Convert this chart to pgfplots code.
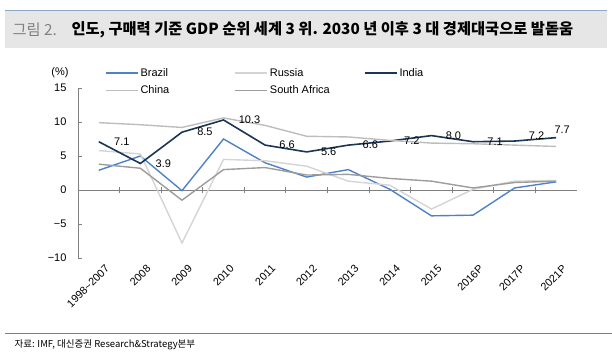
\documentclass[border=0pt]{standalone}
\usepackage{pgfplots}
\pgfplotsset{compat=1.18}
\usepackage{pgfplotstable}
\usepackage{fontspec}
\setmainfont{Liberation Sans}
\newfontfamily\kr{Noto Sans CJK KR}
\definecolor{brazil}{HTML}{4F81C6}
\definecolor{russia}{HTML}{D4D4D4}
\definecolor{india}{HTML}{1B3556}
\definecolor{china}{HTML}{BDBDBD}
\definecolor{safrica}{HTML}{9C9C9C}
\definecolor{axisgray}{HTML}{808080}
\definecolor{band}{HTML}{E6E6E6}
\definecolor{bandline}{HTML}{8FA7C6}

\pgfplotstableread{
x y
0 2.9
1 5.0
2 -0.1
3 7.5
4 4.0
5 1.9
6 3.0
7 0.1
8 -3.8
9 -3.7
10 0.3
11 1.2
}\brazil
\pgfplotstableread{
x y
0 5.8
1 5.3
2 -7.8
3 4.5
4 4.3
5 3.5
6 1.3
7 0.7
8 -2.8
9 0.1
10 1.3
11 1.4
}\russia
\pgfplotstableread{
x y lab dx dy
0 7.1 7.1 23 0
1 3.9 3.9 23 0
2 8.5 8.5 23 0
3 10.3 10.3 26 0
4 6.6 6.6 22 0
5 5.6 5.6 22 0
6 6.6 6.6 22 0
7 7.2 7.2 22 0
8 8.0 8.0 22 0
9 7.1 7.1 22 0
10 7.2 7.2 22 5
11 7.7 7.7 6 8
}\india
\pgfplotstableread{
x y
0 9.9
1 9.6
2 9.2
3 10.6
4 9.5
5 7.9
6 7.8
7 7.3
8 6.9
9 6.8
10 6.6
11 6.4
}\china
\pgfplotstableread{
x y
0 3.8
1 3.2
2 -1.5
3 3.0
4 3.3
5 2.2
6 2.3
7 1.7
8 1.3
9 0.3
10 1.1
11 1.3
}\safrica

\begin{document}
\begin{tikzpicture}
\path[use as bounding box] (0bp,0bp) rectangle (612bp,356bp);
% title band
\fill[band] (5bp,308bp) rectangle (607bp,346bp);
\draw[bandline, line width=0.8bp] (5bp,346bp) -- (607bp,346bp);
\node[anchor=west, text=gray, font=\kr\fontsize{15.3bp}{17bp}\selectfont] at (9bp,326.5bp) {그림 2.};
\node[anchor=west, font=\kr\bfseries\fontsize{15.3bp}{17bp}\selectfont] at (68bp,326.5bp) {인도, 구매력 기준 GDP 순위 세계 3 위. 2030 년 이후 3 대 경제대국으로 발돋움};
% source
\draw[axisgray, line width=0.8bp] (5bp,23bp) -- (612bp,23bp);
\node[anchor=west, font=\kr\fontsize{9.5bp}{11bp}\selectfont] at (11bp,11bp) {자료: IMF, 대신증권 Research\&Strategy본부};
\node[font=\fontsize{11bp}{13bp}\selectfont] at (60bp,283bp) {(\%)};

% zero line axis
\begin{axis}[
  at={(78bp,98bp)}, anchor=south west,
  scale only axis, width=499bp, height=170bp,
  xmin=-0.5, xmax=11.5, ymin=-10, ymax=15,
  axis x line*=middle,
  y axis line style={draw=none},
  ytick=\empty,
  xtick={-0.5,0.5,...,11.5},
  xticklabels={},
  tick align=center,
  major tick length=6bp,
  x axis line style={axisgray, line width=0.9bp},
  xtick style={axisgray, line width=0.9bp},
]
\end{axis}

\begin{axis}[
  at={(78bp,98bp)}, anchor=south west,
  scale only axis, width=499bp, height=170bp,
  xmin=-0.5, xmax=11.5, ymin=-10, ymax=15,
  axis y line*=left,
  axis x line*=bottom,
  x axis line style={draw=none},
  y axis line style={axisgray, line width=0.9bp},
  ytick={-10,-5,0,5,10,15},
  yticklabels={−10,−5,0,5,10,15},
  tick align=inside,
  ytick style={axisgray, line width=0.9bp},
  major tick length=4bp,
  xtick={0,...,11},
  xtick style={draw=none},
  xticklabels={1998\textasciitilde2007,2008,2009,2010,2011,2012,2013,2014,2015,2016P,2017P,2021P},
  xticklabel style={rotate=45, anchor=north east, font=\fontsize{10.8bp}{12bp}\selectfont, xshift=3bp, yshift=-5bp},
  yticklabel style={font=\fontsize{11bp}{13bp}\selectfont, xshift=-8bp},
  /pgf/number format/assume math mode=true,
  legend columns=3,
  legend cell align=left,
  legend style={draw=none, fill=none, at={(0.054,1.13)}, anchor=north west,
    font=\fontsize{11bp}{13bp}\selectfont, column sep=0bp, row sep=4bp, inner sep=0pt},
  legend image code/.code={\draw[#1] (0bp,0bp) -- (32bp,0bp);},
  clip=false,
]
\addplot[brazil, line width=1.4bp] table[x=x,y=y] {\brazil};
\addlegendentry{\makebox[92bp][l]{Brazil}}
\addplot[russia, line width=1.4bp] table[x=x,y=y] {\russia};
\addlegendentry{\makebox[92bp][l]{Russia}}
\addplot[india, line width=1.6bp,
  nodes near coords, point meta=explicit symbolic,
  visualization depends on={\thisrow{dx} \as \dx},
  visualization depends on={\thisrow{dy} \as \dy},
  every node near coord/.append style={anchor=center, text=black, font=\fontsize{11bp}{13bp}\selectfont, xshift=\dx bp, yshift=\dy bp},
  ] table[x=x,y=y,meta=lab] {\india};
\addlegendentry{\makebox[92bp][l]{India}}
\addplot[china, line width=1.4bp] table[x=x,y=y] {\china};
\addlegendentry{\makebox[92bp][l]{China}}
\addplot[safrica, line width=1.4bp] table[x=x,y=y] {\safrica};
\addlegendentry{\makebox[92bp][l]{South Africa}}
\end{axis}
\end{tikzpicture}
\end{document}
